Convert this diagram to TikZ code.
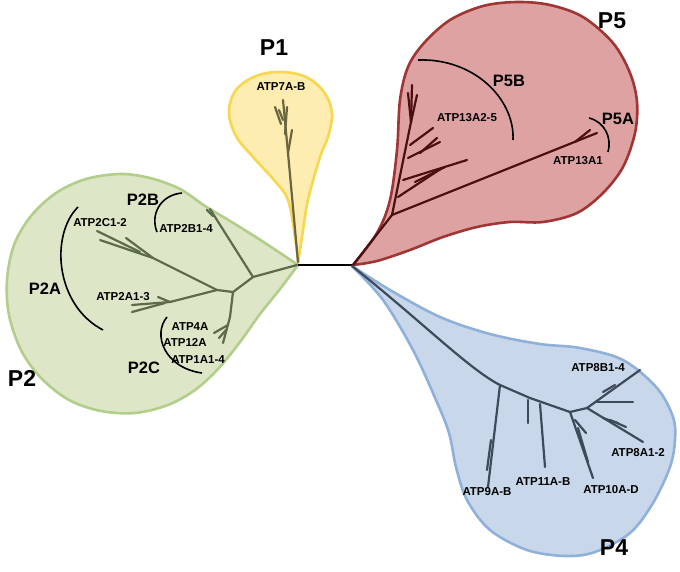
\documentclass[tikz,border=0pt]{standalone}
\usepackage{fontspec}
\setmainfont{Liberation Sans}
\definecolor{yfill}{HTML}{FDEDB0}\definecolor{ydraw}{HTML}{F7D750}
\definecolor{gfill}{HTML}{DDE7C8}\definecolor{gdraw}{HTML}{B3CE8A}
\definecolor{rfill}{HTML}{DFA2A2}\definecolor{rdraw}{HTML}{A03535}
\definecolor{bfill}{HTML}{C9D7EA}\definecolor{bdraw}{HTML}{8FB1D9}
\definecolor{ytree}{HTML}{6B6540}\definecolor{gtree}{HTML}{5E6A4C}
\definecolor{rtree}{HTML}{4A1010}\definecolor{btree}{HTML}{3E4A5C}
\tikzset{
  blob/.style={line width=2.6pt, line join=round},
  branch/.style={line width=2.2pt, line cap=round, line join=round},
  bigP/.style={font=\bfseries\fontsize{23}{26}\selectfont, inner sep=0pt},
  subP/.style={font=\bfseries\fontsize{16.5}{19}\selectfont, inner sep=0pt},
  gene/.style={font=\bfseries\fontsize{11.5}{13}\selectfont, inner sep=0pt},
  bracket/.style={line width=1.6pt, black}
}
\begin{document}
\begin{tikzpicture}[x=1pt,y=-1pt]
\useasboundingbox (0,0) rectangle (680,572);
\fill[white] (0,0) rectangle (680,572);

% ---------- P1 (yellow) ----------
\filldraw[blob, fill=yfill, draw=ydraw] plot[smooth, tension=0.6] coordinates {
 (298,263) (295,237) (288,200) (274,180) (253,157) (236,136) (229,112) (236,90)
 (256,76) (281,72) (306,77) (324,92) (332,113) (328,137) (320,157) (308,200) (302,237) (298,263)} -- cycle;

% ---------- P2 (green) ----------
\filldraw[blob, fill=gfill, draw=gdraw] plot[smooth, tension=0.55] coordinates {
 (298,265) (262,241) (230,221) (205,206) (180,189) (150,178) (120,174) (86,179) (56,193)
 (31,216) (14,245) (7,280) (9,315) (21,350) (41,378) (69,400) (101,411) (135,413)
 (168,405) (195,390) (218,369) (240,342) (260,314) (280,289) (298,265)} -- cycle;

% ---------- P5 (red) ----------
\filldraw[blob, fill=rfill, draw=rdraw] plot[smooth, tension=0.55] coordinates {
 (353,265) (377,233) (390,200) (397,150) (400,100) (408,67) (424,43) (450,20) (483,6)
 (517,2) (550,5) (583,17) (613,43) (630,73) (637,102) (635,133) (623,167) (603,193)
 (577,213) (543,222) (510,222) (477,227) (443,237) (410,250) (377,261) (353,265)} -- cycle;

% ---------- P4 (blue) ----------
\filldraw[blob, fill=bfill, draw=bdraw] plot[smooth, tension=0.55] coordinates {
 (352,266) (390,290) (440,317) (490,334) (540,344) (580,348) (623,360) (657,388)
 (673,417) (675,440) (670,467) (653,503) (630,533) (595,552) (565,556) (527,550)
 (490,530) (467,500) (456,467) (449,433) (436,400) (413,350) (383,300) (352,266)} -- cycle;

% ---------- root ----------
\draw[line width=2.4pt, black] (298,265) -- (352,265);

% ---------- P1 tree ----------
\draw[branch, ytree] (298,262) -- (288,153) -- (283,100);
\draw[branch, ytree] (288,153) -- (292,130);
\draw[branch, ytree] (285,134) -- (287,107);
\draw[branch, ytree] (281,124) -- (275,107);
\draw[branch, ytree] (283,120) -- (279,110);

% ---------- P2 tree ----------
\draw[branch, gtree] (297,265) -- (253,277) -- (210,209);
\draw[branch, gtree] (213,216) -- (207,210);
\draw[branch, gtree] (253,277) -- (233,292) -- (217,290) -- (153,258) -- (100,240);
\draw[branch, gtree] (140,252) -- (97,231);
\draw[branch, gtree] (153,258) -- (126,238);
\draw[branch, gtree] (217,290) -- (170,302) -- (132,305);
\draw[branch, gtree] (165,303) -- (132,312);
\draw[branch, gtree] (170,302) -- (158,297);
\draw[branch, gtree] (233,292) -- (230,317) -- (223,343);
\draw[branch, gtree] (228,325) -- (214,333);
\draw[branch, gtree] (226,330) -- (219,338);

% ---------- P5 tree ----------
\draw[branch, rtree] (353,265) -- (392,215) -- (597,133);
\draw[branch, rtree] (575,142) -- (590,130);
\draw[branch, rtree] (392,215) -- (411,122) -- (412,85);
\draw[branch, rtree] (411,122) -- (408,93);
\draw[branch, rtree] (411,122) -- (417,95);
\draw[branch, rtree] (410,145) -- (433,128);
\draw[branch, rtree] (408,158) -- (440,142);
\draw[branch, rtree] (420,153) -- (437,138);
\draw[branch, rtree] (403,180) -- (467,160);
\draw[branch, rtree] (398,197) -- (442,168);
\draw[branch, rtree] (415,182) -- (445,167);

% ---------- P4 tree ----------
\draw[branch, btree] (352,266) .. controls (420,320) and (470,370) .. (500,385) -- (530,398) -- (570,412) -- (587,408);
\draw[branch, btree] (500,385) -- (488,487);
\draw[branch, btree] (491,440) -- (487,470);
\draw[branch, btree] (540,404) -- (545,467);
\draw[branch, btree] (528,400) -- (528,423);
\draw[branch, btree] (570,412) -- (593,478);
\draw[branch, btree] (578,428) -- (588,462);
\draw[branch, btree] (575,420) -- (586,433);
\draw[branch, btree] (587,408) -- (640,370);
\draw[branch, btree] (603,392) -- (615,385);
\draw[branch, btree] (597,402) -- (633,402);
\draw[branch, btree] (587,408) -- (643,442);
\draw[branch, btree] (603,418) -- (618,423);
\draw[branch, btree] (610,420) -- (626,427);

% ---------- brackets ----------
\draw[bracket] (78,207) .. controls (50,235) and (55,305) .. (103,330);
\draw[bracket] (182,193) .. controls (160,195) and (150,215) .. (157,232);
\draw[bracket] (167,317) .. controls (152,335) and (165,368) .. (202,373);
\draw[bracket] (418,60) .. controls (475,58) and (515,100) .. (513,140);
\draw[bracket] (589,118) .. controls (605,122) and (612,138) .. (608,152);

% ---------- labels ----------
\node[bigP] (p1) at (274,48) {P1};
\node[bigP] (p5) at (612,21) {P5};
\node[bigP] (p2) at (22,378) {P2};
\node[bigP] (p4) at (614,548) {P4};

\node[subP] (p2a) at (45,289) {P2A};
\node[subP] (p2b) at (143,200) {P2B};
\node[subP] (p2c) at (144,368) {P2C};
\node[subP] (p5b) at (509,81) {P5B};
\node[subP] (p5a) at (618,119) {P5A};

\node[gene] (atp7) at (281,87) {ATP7A-B};
\node[gene] (atp2c) at (100,223) {ATP2C1-2};
\node[gene] (atp2b) at (186,228) {ATP2B1-4};
\node[gene] (atp2a) at (123,297) {ATP2A1-3};
\node[gene] (atp4a) at (190,327) {ATP4A};
\node[gene] (atp12a) at (185,342) {ATP12A};
\node[gene] (atp1a) at (198,360) {ATP1A1-4};
\node[gene] (atp13a25) at (467,118) {ATP13A2-5};
\node[gene] (atp13a1) at (578,161) {ATP13A1};
\node[gene] (atp8b) at (598,368) {ATP8B1-4};
\node[gene] (atp8a) at (638,453) {ATP8A1-2};
\node[gene] (atp10) at (611,490) {ATP10A-D};
\node[gene] (atp11) at (543,482) {ATP11A-B};
\node[gene] (atp9) at (487,492) {ATP9A-B};
\end{tikzpicture}
\end{document}
